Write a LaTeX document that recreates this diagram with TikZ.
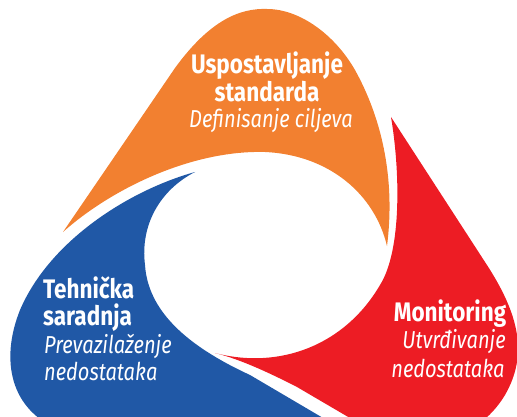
\documentclass[tikz,border=0pt]{standalone}
\usepackage{fontspec}
\setmainfont{Fira Sans}
\newfontfamily\boldfam{Fira Sans}[FakeStretch=0.84]
\newfontfamily\italfam{Fira Sans}[FakeStretch=0.82]
\definecolor{orangeC}{RGB}{242,128,48}
\definecolor{redC}{RGB}{237,28,36}
\definecolor{blueC}{RGB}{32,88,166}
\tikzset{
  head/.style={text=white, inner sep=0pt, font=\boldfam\bfseries\fontsize{26.8}{27}\selectfont},
  sub/.style={text=white, inner sep=0pt, font=\italfam\itshape\fontsize{24.5}{27}\selectfont}
}
\begin{document}
\begin{tikzpicture}[x=1pt,y=-1pt]
\useasboundingbox (0,0) rectangle (517,417);
\clip (0,0) rectangle (517,417);
% orange
\fill[orangeC] (63,232) -- (175,68) .. controls (210,20) and (240,8) .. (267,9)
  .. controls (300,9) and (335,35) .. (355,70)
  .. controls (380,115) and (396,175) .. (387,246)
  .. controls (375,195) and (330,155) .. (265,152)
  .. controls (190,150) and (110,190) .. cycle;
% blue
\fill[blueC] (195,172) .. controls (130,190) and (50,240) .. (20,310)
  .. controls (0,360) and (10,410) .. (60,430)
  -- (80,445) -- (369,445) -- (250,375)
  .. controls (185,345) and (148,310) .. (145,265)
  .. controls (140,225) and (160,190) .. cycle;
% red
\fill[redC] (391,117) -- (485,262) .. controls (520,315) and (528,355) .. (505,395)
  .. controls (490,420) and (470,430) .. (450,445)
  -- (396,445) -- (297,387)
  .. controls (260,368) and (235,358) .. (215,353)
  .. controls (280,370) and (345,345) .. (380,285)
  .. controls (402,250) and (400,170) .. cycle;
% texts
\node[head, anchor=base] (o1) at (267,73.5) {Uspostavljanje};
\node[head, anchor=base] (o2) at (267,101.5) {standarda};
\node[sub, anchor=base] (o3) at (271,128) {Definisanje ciljeva};
\node[head, anchor=base] (r1) at (450,321) {Monitoring};
\node[sub, anchor=base] (r2) at (454,348) {Utvrđivanje};
\node[sub, anchor=base] (r3) at (448,377) {nedostataka};
\node[head, anchor=base west] (b1) at (43,298) {Tehnička};
\node[head, anchor=base west] (b2) at (43,325) {saradnja};
\node[sub, anchor=base west] (b3) at (44,353) {Prevazilaženje};
\node[sub, anchor=base west] (b4) at (44,380) {nedostataka};
\end{tikzpicture}
\end{document}
